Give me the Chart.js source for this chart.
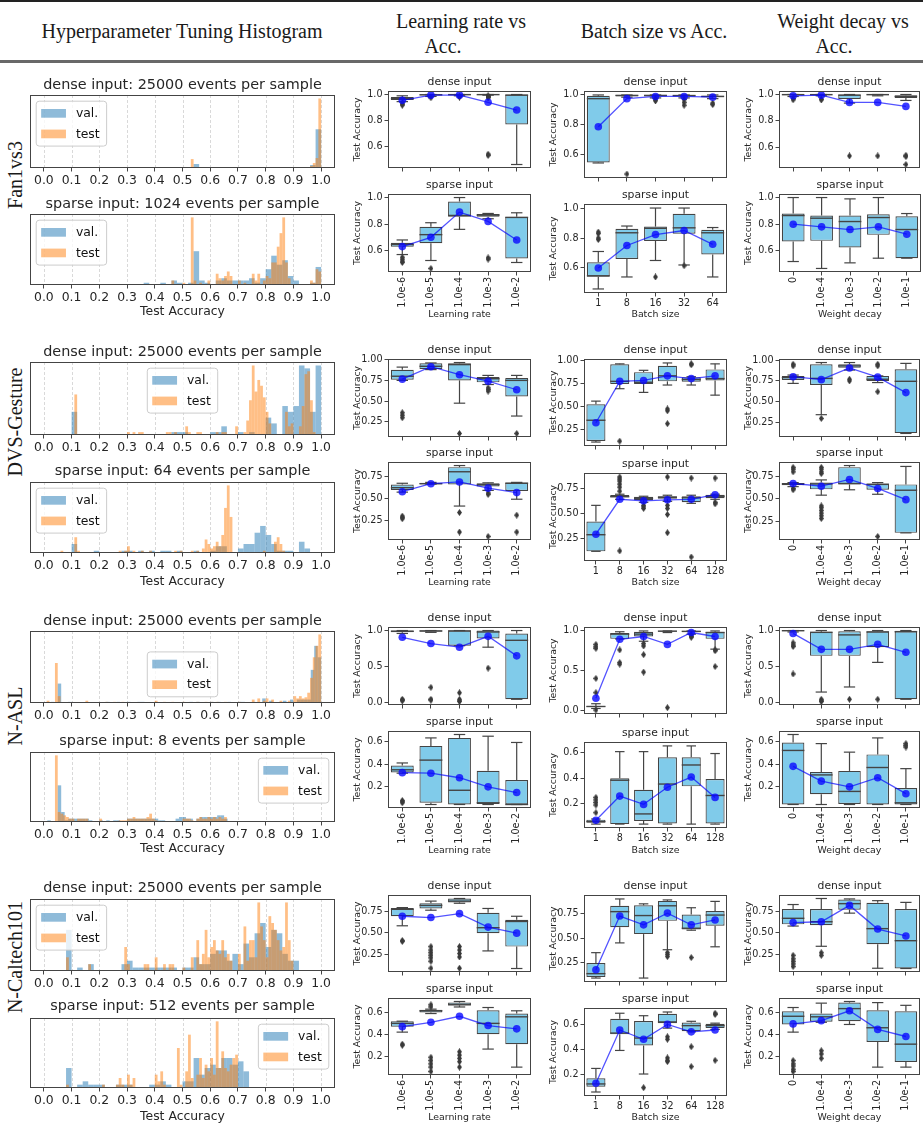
<!DOCTYPE html>
<html>
<head>
<meta charset="utf-8">
<script src="https://cdn.jsdelivr.net/npm/chart.js@4.4.1/dist/chart.umd.min.js"></script>
<style>
  body { margin: 0; background: #fff; }
  #page { position: relative; width: 923px; height: 1143px; overflow: hidden; background: #fff; }
  .rule { position: absolute; left: 0; width: 923px; }
  .hdr, .rowname { position: absolute; font-family: "Liberation Serif", "DejaVu Serif", serif; font-size: 20px; color: #1a1a1a; white-space: nowrap; }
  .hdr { transform: translate(-50%, -50%); }
  .rowname { transform: translate(-50%, -50%) rotate(-90deg); }
  canvas { position: absolute; }
</style>
</head>
<body>
<div id="page">
  <div class="rule" style="top:0;height:1.5px;background:#222;"></div>
  <div class="rule" style="top:60px;height:3px;background:#686868;"></div>
  <div class="hdr" style="left:182px;top:31px;">Hyperparameter Tuning Histogram</div>
  <div class="hdr" style="left:461px;top:21px;">Learning rate vs</div>
  <div class="hdr" style="left:443px;top:46px;">Acc.</div>
  <div class="hdr" style="left:654px;top:31px;">Batch size vs Acc.</div>
  <div class="hdr" style="left:843px;top:21px;">Weight decay vs</div>
  <div class="hdr" style="left:834px;top:46px;">Acc.</div>
</div>
<script>
// ---------- categories ----------
const lrLabels = ['1.0e-6', '1.0e-5', '1.0e-4', '1.0e-3', '1.0e-2'];
const bsLabelsFan = ['1', '8', '16', '32', '64'];
const bsLabels = ['1', '8', '16', '32', '64', '128'];
const wdLabels = ['0', '1.0e-4', '1.0e-3', '1.0e-2', '1.0e-1'];
const rowNames = ['Fan1vs3', 'DVS-Gesture', 'N-ASL', 'N-Caltech101'];
const denseEvents = 25000;
const sparseEvents = [1024, 64, 8, 512];

// ---------- histogram bins: [left edge, count] ----------
const valBinW = 0.02;
const testBinW = 0.01;
const aslValBinW = 0.0125;
const aslTestBinW = 0.01;

const fanDenseVal = [[0.54,4],[0.64,1],[0.70,1],[0.92,1],[0.94,1],[0.96,3],[0.98,39]];
const fanDenseTest = [[0.46,1],[0.53,9],[0.93,1],[0.94,1],[0.95,1],[0.96,2],[0.97,5],[0.98,10],[0.99,70]];
const fanSparseVal = [[0.36,1],[0.42,1],[0.46,2],[0.48,1],[0.52,1],[0.54,15],[0.56,2],[0.58,1],[0.62,2],[0.64,3],[0.66,2],[0.68,2],[0.70,2],[0.72,2],[0.74,3],[0.76,1],[0.78,3],[0.80,7],[0.82,13],[0.84,9],[0.86,11],[0.88,4],[0.90,2],[0.96,1],[0.98,8]];
const fanSparseTest = [[0.46,2],[0.50,1],[0.53,30],[0.54,2],[0.56,1],[0.59,2],[0.62,5],[0.63,3],[0.64,2],[0.65,4],[0.66,6],[0.67,4],[0.70,2],[0.72,1],[0.75,5],[0.76,2],[0.77,5],[0.79,2],[0.80,4],[0.81,3],[0.82,10],[0.83,10],[0.84,17],[0.85,23],[0.86,30],[0.87,10],[0.88,3],[0.96,2],[0.97,1],[0.98,7],[0.99,6]];

const dvsDenseVal = [[0.10,8],[0.46,1],[0.48,1],[0.50,1],[0.60,1],[0.62,1],[0.64,3],[0.70,1],[0.74,1],[0.80,6],[0.82,4],[0.86,10],[0.88,8],[0.90,10],[0.92,24],[0.94,23],[0.96,8],[0.98,24]];
const dvsDenseTest = [[0.11,14],[0.30,1],[0.32,1],[0.34,1],[0.35,1],[0.44,1],[0.45,1],[0.47,1],[0.51,3],[0.52,1],[0.55,1],[0.56,1],[0.62,1],[0.64,1],[0.65,1],[0.69,3],[0.72,1],[0.73,5],[0.74,12],[0.75,24],[0.76,15],[0.77,19],[0.78,17],[0.79,13],[0.80,8],[0.81,4],[0.87,8],[0.88,3],[0.89,4],[0.92,3],[0.93,10],[0.94,21],[0.95,22],[0.96,12],[0.97,1]];
const dvsSparseVal = [[0.10,4],[0.18,1],[0.28,1],[0.30,1],[0.34,1],[0.38,1],[0.42,1],[0.44,1],[0.48,1],[0.54,1],[0.60,1],[0.62,3],[0.64,3],[0.70,2],[0.72,4],[0.74,4],[0.76,9],[0.78,12],[0.80,8],[0.82,4],[0.84,1],[0.86,1],[0.88,1],[0.92,5],[0.94,2]];
const dvsSparseTest = [[0.06,1],[0.11,7],[0.12,1],[0.27,1],[0.29,1],[0.30,3],[0.32,1],[0.35,1],[0.38,1],[0.47,1],[0.49,1],[0.53,1],[0.55,1],[0.57,2],[0.58,6],[0.59,4],[0.60,2],[0.61,3],[0.62,5],[0.63,3],[0.64,8],[0.65,20],[0.66,30],[0.67,16],[0.79,1],[0.83,5],[0.84,7],[0.85,4],[0.86,1]];

const aslDenseVal = [[0.025,1],[0.05,17],[0.0875,1],[0.225,1],[0.2625,1],[0.3,1],[0.3375,1],[0.35,1],[0.525,1],[0.55,1],[0.6,1],[0.625,1],[0.6625,1],[0.7,1],[0.7125,1],[0.75,1],[0.7875,4],[0.8125,2],[0.85,1],[0.8625,2],[0.8875,3],[0.9125,3],[0.925,3],[0.9375,3],[0.95,3],[0.9625,29],[0.975,50],[0.9875,40]];
const aslDenseTest = [[0.01,2],[0.04,35],[0.05,6],[0.15,2],[0.22,1],[0.25,1],[0.28,1],[0.40,2],[0.43,1],[0.46,1],[0.50,1],[0.55,1],[0.58,1],[0.60,1],[0.62,1],[0.65,1],[0.70,1],[0.75,3],[0.77,4],[0.79,2],[0.80,4],[0.82,3],[0.85,2],[0.88,2],[0.90,6],[0.91,4],[0.92,6],[0.93,4],[0.94,5],[0.95,9],[0.96,22],[0.97,40],[0.98,50],[0.99,60]];
const aslSparseVal = [[0.0125,1],[0.05,22],[0.0625,6],[0.075,1],[0.0875,2],[0.1,2],[0.1125,2],[0.125,2],[0.1375,2],[0.15,2],[0.1625,1],[0.2,1],[0.225,1],[0.25,1],[0.2625,1],[0.3,2],[0.3125,2],[0.325,2],[0.3375,2],[0.35,2],[0.3625,2],[0.375,2],[0.3875,2],[0.4,2],[0.4125,1],[0.425,1],[0.475,2],[0.4875,3],[0.5,3],[0.5125,2],[0.525,2],[0.55,2],[0.5625,3],[0.575,3],[0.5875,3],[0.6,3],[0.6125,3],[0.625,4],[0.6375,4],[0.65,2]];
const aslSparseTest = [[0.04,40],[0.05,6],[0.06,5],[0.07,4],[0.08,3],[0.09,2],[0.10,2],[0.12,2],[0.13,2],[0.14,2],[0.15,2],[0.20,2],[0.27,1],[0.28,1],[0.29,1],[0.30,2],[0.31,2],[0.32,3],[0.33,2],[0.34,2],[0.35,2],[0.36,2],[0.37,3],[0.38,5],[0.39,2],[0.40,1],[0.50,2],[0.51,2],[0.52,2],[0.53,1],[0.55,2],[0.56,3],[0.57,2],[0.58,2],[0.59,3],[0.60,2],[0.61,3],[0.62,2],[0.63,3],[0.64,2],[0.65,3]];

const calDenseVal = [[0.08,12],[0.12,1],[0.16,2],[0.28,2],[0.30,3],[0.32,1],[0.34,1],[0.36,1],[0.38,1],[0.40,1],[0.42,1],[0.44,1],[0.46,1],[0.50,1],[0.52,1],[0.54,4],[0.56,2],[0.58,2],[0.60,5],[0.62,6],[0.64,6],[0.66,3],[0.68,5],[0.70,2],[0.72,8],[0.74,4],[0.76,11],[0.78,14],[0.80,7],[0.82,12],[0.84,11],[0.86,5],[0.88,3],[0.90,3]];
const calDenseTest = [[0.08,4],[0.16,2],[0.29,7],[0.30,2],[0.36,2],[0.37,2],[0.40,4],[0.43,2],[0.45,2],[0.46,2],[0.50,1],[0.53,4],[0.55,9],[0.56,2],[0.57,5],[0.58,12],[0.59,4],[0.60,7],[0.61,9],[0.62,6],[0.63,5],[0.64,9],[0.65,4],[0.66,5],[0.67,3],[0.70,5],[0.72,13],[0.73,3],[0.74,9],[0.75,9],[0.76,4],[0.77,20],[0.78,13],[0.79,9],[0.80,4],[0.81,16],[0.82,14],[0.83,12],[0.84,9],[0.85,6],[0.86,7],[0.87,20],[0.88,9],[0.89,3]];
const calSparseVal = [[0.08,6],[0.12,1],[0.14,2],[0.16,1],[0.18,1],[0.20,1],[0.26,1],[0.28,1],[0.30,1],[0.38,1],[0.40,1],[0.42,2],[0.44,1],[0.50,2],[0.52,2],[0.54,9],[0.56,4],[0.58,6],[0.60,7],[0.62,6],[0.64,9],[0.66,9],[0.68,7],[0.70,8],[0.72,5]];
const calSparseTest = [[0.08,1],[0.21,1],[0.26,1],[0.27,3],[0.28,1],[0.30,4],[0.31,1],[0.32,3],[0.40,4],[0.41,2],[0.42,5],[0.43,1],[0.48,12],[0.49,1],[0.51,5],[0.52,16],[0.53,3],[0.55,4],[0.56,9],[0.57,3],[0.58,7],[0.59,5],[0.60,9],[0.61,4],[0.62,20],[0.63,6],[0.64,11],[0.65,6],[0.66,5],[0.67,7],[0.68,9],[0.69,10]];

// ---------- box stats: [whisker low, q1, median, q3, whisker high, mean, outliers] ----------
const fanLrDense = [[0.945,0.958,0.968,0.980,0.990,0.955,[0.935,0.925,0.918]],[0.985,0.992,0.998,1.0,1.0,0.995,[0.975]],[0.99,0.995,0.999,1.0,1.0,0.995,[0.985,0.98]],[0.995,0.996,0.999,1.0,1.0,0.94,[0.99,0.985,0.98,0.975,0.54,0.53]],[0.46,0.768,0.995,1.0,1.0,0.88,[]]];
const fanLrSparse = [[0.57,0.628,0.645,0.658,0.68,0.63,[0.55,0.535,0.52,0.51]],[0.525,0.655,0.72,0.78,0.81,0.70,[0.465]],[0.76,0.856,0.865,0.97,1.0,0.89,[]],[0.84,0.855,0.868,0.875,0.88,0.82,[0.545,0.535]],[0.51,0.54,0.85,0.855,0.885,0.68,[]]];
const fanBsDense = [[0.54,0.543,0.975,0.995,1.0,0.785,[]],[0.985,0.99,0.997,1.0,1.0,0.975,[0.465]],[0.98,0.99,0.997,1.0,1.0,0.99,[0.975,0.965,0.96]],[0.98,0.99,0.996,1.0,1.0,0.99,[0.97,0.95,0.93]],[0.975,0.985,0.99,0.995,1.0,0.985,[0.945,0.935]]];
const fanBsSparse = [[0.46,0.542,0.548,0.638,0.71,0.60,[0.84,0.83,0.80,0.79]],[0.54,0.66,0.835,0.862,0.88,0.75,[]],[0.65,0.78,0.865,0.876,1.0,0.823,[0.54]],[0.62,0.829,0.868,0.962,1.0,0.85,[0.615]],[0.54,0.69,0.835,0.855,0.87,0.758,[]]];
const fanWdDense = [[0.985,0.995,0.999,1.0,1.0,0.99,[0.97,0.96]],[0.99,0.995,0.999,1.0,1.0,0.995,[0.965,0.96]],[0.935,0.966,0.995,1.0,1.0,0.94,[0.535]],[0.99,0.995,0.999,1.0,1.0,0.94,[0.535]],[0.955,0.974,0.985,0.995,1.0,0.91,[0.54,0.53,0.47]]];
const fanWdSparse = [[0.52,0.67,0.865,0.88,1.0,0.80,[]],[0.468,0.675,0.845,0.865,1.0,0.78,[]],[0.51,0.625,0.82,0.865,0.99,0.76,[]],[0.545,0.72,0.85,0.875,1.0,0.78,[]],[0.545,0.545,0.76,0.86,0.88,0.725,[]]];

const dvsLrDense = [[0.75,0.757,0.80,0.878,0.91,0.765,[0.36,0.33,0.30]],[0.88,0.886,0.92,0.955,0.96,0.915,[]],[0.475,0.75,0.94,0.955,0.965,0.818,[0.11]],[0.70,0.726,0.77,0.79,0.81,0.74,[0.66,0.64,0.62]],[0.32,0.557,0.75,0.78,0.81,0.637,[0.11]]];
const dvsLrSparse = [[0.57,0.595,0.62,0.655,0.67,0.575,[0.30,0.285,0.27]],[0.66,0.66,0.665,0.675,0.68,0.665,[]],[0.413,0.656,0.80,0.852,0.87,0.685,[0.34,0.12]],[0.59,0.635,0.655,0.67,0.675,0.615,[0.56,0.545,0.07]],[0.49,0.583,0.67,0.678,0.68,0.565,[0.31,0.12]]];
const dvsBsDense = [[0.11,0.122,0.347,0.52,0.555,0.32,[]],[0.69,0.74,0.77,0.955,0.96,0.77,[0.12]],[0.65,0.74,0.76,0.87,0.89,0.78,[]],[0.73,0.77,0.83,0.94,0.97,0.83,[0.47,0.45,0.31]],[0.73,0.765,0.79,0.815,0.82,0.80,[0.96,0.95]],[0.62,0.78,0.80,0.90,0.96,0.83,[]]];
const dvsBsSparse = [[0.126,0.126,0.29,0.42,0.58,0.295,[]],[0.64,0.66,0.665,0.682,0.69,0.64,[0.86,0.84,0.82,0.79,0.76,0.72,0.13]],[0.61,0.63,0.65,0.665,0.67,0.625,[0.58,0.565,0.55]],[0.62,0.645,0.66,0.67,0.68,0.635,[0.86,0.58,0.55,0.49,0.31]],[0.60,0.61,0.655,0.67,0.68,0.64,[0.85,0.07]],[0.64,0.65,0.67,0.685,0.69,0.685,[0.85,0.61,0.595]]];
const dvsWdDense = [[0.72,0.762,0.79,0.81,0.82,0.80,[0.95,0.93]],[0.345,0.70,0.78,0.95,0.97,0.765,[0.30]],[0.88,0.907,0.93,0.95,0.97,0.905,[0.77,0.75]],[0.73,0.75,0.77,0.81,0.81,0.795,[0.95,0.93,0.62]],[0.12,0.124,0.745,0.89,0.96,0.61,[]]];
const dvsWdSparse = [[0.635,0.65,0.665,0.675,0.68,0.67,[0.85,0.83,0.80,0.615,0.60]],[0.54,0.605,0.665,0.68,0.71,0.64,[0.85,0.83,0.80,0.78,0.42,0.40,0.37,0.34,0.31,0.28]],[0.60,0.66,0.67,0.852,0.87,0.715,[]],[0.55,0.60,0.66,0.67,0.68,0.615,[0.08]],[0.12,0.12,0.595,0.66,0.86,0.49,[]]];

const aslLrDense = [[0.96,0.975,0.99,1.0,1.0,0.907,[0.05,0.04,0.03]],[0.975,0.985,0.995,1.0,1.0,0.82,[0.215,0.05,0.04]],[0.79,0.79,0.995,1.0,1.0,0.77,[0.14,0.05,0.03,0.02]],[0.77,0.89,0.98,1.0,1.0,0.92,[0.48]],[0.05,0.05,0.865,0.958,1.0,0.65,[]]];
const aslLrSparse = [[0.32,0.327,0.35,0.388,0.41,0.325,[0.08,0.07,0.06]],[0.045,0.06,0.435,0.56,0.63,0.32,[]],[0.045,0.045,0.17,0.63,0.66,0.28,[]],[0.045,0.05,0.06,0.342,0.645,0.20,[]],[0.045,0.045,0.045,0.26,0.59,0.15,[]]];
const aslBsDense = [[0.02,0.04,0.045,0.05,0.08,0.15,[0.83,0.80,0.78,0.40,0.22,0.0]],[0.90,0.90,0.96,0.975,0.99,0.895,[0.76,0.60,0.58]],[0.87,0.93,0.96,0.99,1.0,0.93,[0.84,0.81,0.70,0.48]],[0.98,0.99,0.998,1.0,1.0,0.83,[0.03]],[0.96,0.985,0.995,1.0,1.0,0.98,[0.95,0.93,0.92]],[0.77,0.90,0.98,0.99,1.0,0.93,[0.76,0.75,0.55]]];
const aslBsSparse = [[0.04,0.05,0.06,0.075,0.08,0.07,[0.25,0.23,0.21,0.19,0.13]],[0.04,0.04,0.385,0.40,0.61,0.26,[]],[0.04,0.065,0.12,0.31,0.61,0.195,[]],[0.04,0.045,0.355,0.565,0.655,0.33,[]],[0.04,0.337,0.505,0.565,0.655,0.41,[]],[0.04,0.045,0.265,0.395,0.595,0.25,[]]];
const aslWdDense = [[0.98,0.99,0.998,1.0,1.0,0.96,[0.83,0.80,0.78,0.40]],[0.15,0.65,0.975,0.985,1.0,0.74,[0.05,0.03,0.02]],[0.22,0.65,0.94,0.99,1.0,0.74,[0.05]],[0.56,0.77,0.98,0.99,1.0,0.81,[0.05]],[0.05,0.05,0.985,0.99,1.0,0.70,[]]];
const aslWdSparse = [[0.045,0.045,0.52,0.59,0.66,0.38,[]],[0.045,0.135,0.305,0.33,0.58,0.25,[]],[0.045,0.05,0.16,0.34,0.505,0.20,[]],[0.045,0.045,0.37,0.485,0.63,0.28,[]],[0.045,0.045,0.06,0.19,0.36,0.14,[0.58,0.565,0.55]]];

const calLrDense = [[0.58,0.69,0.77,0.785,0.79,0.69,[0.41,0.40]],[0.76,0.78,0.815,0.84,0.865,0.675,[0.34,0.30,0.27,0.24,0.21,0.17,0.09]],[0.84,0.85,0.865,0.895,0.895,0.72,[0.34,0.30,0.26,0.22,0.09]],[0.29,0.495,0.558,0.73,0.78,0.565,[]],[0.087,0.34,0.63,0.65,0.69,0.495,[]]];
const calLrSparse = [[0.42,0.47,0.50,0.52,0.52,0.47,[0.31,0.30]],[0.59,0.60,0.615,0.625,0.63,0.51,[0.67,0.65,0.19,0.16,0.13,0.10,0.06]],[0.65,0.665,0.67,0.69,0.70,0.565,[0.24,0.21,0.18,0.15,0.10]],[0.265,0.40,0.50,0.62,0.645,0.48,[]],[0.10,0.31,0.56,0.59,0.615,0.45,[]]];
const calBsDense = [[0.09,0.10,0.135,0.243,0.35,0.175,[]],[0.45,0.61,0.77,0.83,0.90,0.725,[]],[0.09,0.54,0.73,0.835,0.85,0.635,[]],[0.38,0.676,0.83,0.88,0.89,0.755,[0.35,0.33,0.31]],[0.58,0.588,0.60,0.74,0.81,0.635,[0.30]],[0.41,0.625,0.735,0.777,0.875,0.685,[]]];
const calBsSparse = [[0.055,0.097,0.12,0.165,0.245,0.125,[]],[0.39,0.52,0.53,0.645,0.69,0.555,[]],[0.20,0.43,0.49,0.627,0.67,0.48,[0.09]],[0.57,0.61,0.62,0.685,0.70,0.60,[0.50,0.48,0.33,0.31,0.30]],[0.54,0.545,0.59,0.615,0.625,0.54,[0.42,0.26]],[0.56,0.57,0.59,0.605,0.61,0.555,[0.69,0.68,0.31]]];
const calWdDense = [[0.58,0.60,0.67,0.777,0.83,0.62,[0.24,0.20,0.17,0.14,0.11]],[0.345,0.59,0.63,0.777,0.90,0.63,[0.27,0.24]],[0.73,0.77,0.84,0.887,0.895,0.82,[]],[0.09,0.37,0.55,0.85,0.875,0.545,[]],[0.087,0.087,0.41,0.777,0.855,0.465,[]]];
const calWdSparse = [[0.42,0.49,0.565,0.61,0.645,0.495,[0.16,0.13,0.11,0.08,0.06]],[0.51,0.515,0.56,0.59,0.685,0.525,[0.25,0.22,0.18]],[0.49,0.52,0.635,0.69,0.70,0.615,[]],[0.10,0.33,0.46,0.62,0.69,0.445,[]],[0.10,0.148,0.31,0.61,0.665,0.38,[]]];

// y tick spacing per row: [dense, sparse]
const yStepFan = [0.2, 0.2];
const yStepDvs = [0.25, 0.25];
const yStepAsl = [0.5, 0.2];
const yStepCal = [0.25, 0.2];

// ---------- styling ----------
const FONT = "'DejaVu Sans', 'Noto Sans', sans-serif";
const TEXT = '#262626';
const EDGE = '#444444';
const BOX_FILL = '#80cbea';
const VAL_COLOR = 'rgba(31,119,180,0.5)';
const TEST_COLOR = 'rgba(255,127,14,0.5)';
const MEAN_LINE = 'rgba(0,0,255,0.68)';
const MEAN_DOT = 'rgba(10,10,255,0.8)';
const page = document.getElementById('page');

// thin diamond used for outlier markers
const flierMark = (() => {
  const c = document.createElement('canvas');
  c.width = 5; c.height = 7;
  const g = c.getContext('2d');
  g.fillStyle = '#3a3a3a';
  g.beginPath(); g.moveTo(2.5, 0); g.lineTo(5, 3.5); g.lineTo(2.5, 7); g.lineTo(0, 3.5); g.closePath(); g.fill();
  return c;
})();

// titles, axis labels, frames, dashed grid, whiskers and legends
const decor = {
  id: 'decor',
  beforeDatasetsDraw(chart, args, o) {
    if (!o.vgrid) return;
    const { ctx, chartArea: a } = chart;
    const xs = chart.scales.x;
    ctx.save();
    ctx.strokeStyle = '#cfcfcf'; ctx.lineWidth = 0.8; ctx.setLineDash([3, 2]);
    xs.ticks.forEach(t => {
      const px = Math.round(xs.getPixelForValue(t.value)) + 0.5;
      ctx.beginPath(); ctx.moveTo(px, a.top); ctx.lineTo(px, a.bottom); ctx.stroke();
    });
    ctx.restore();
  },
  afterDatasetDraw(chart, args) {
    const ds = chart.data.datasets[args.index];
    if (!ds.stats) return;
    const { ctx } = chart;
    const ys = chart.scales.y;
    const p = v => ys.getPixelForValue(v);
    const seg = (x1, y1, x2, y2) => { ctx.beginPath(); ctx.moveTo(x1, y1); ctx.lineTo(x2, y2); ctx.stroke(); };
    ctx.save();
    ctx.strokeStyle = EDGE;
    ds.stats.forEach((s, i) => {
      const el = args.meta.data[i];
      const x = el.x, hw = el.width / 2, cw = el.width / 4;
      ctx.lineWidth = 1.2;
      seg(x, p(s[1]), x, p(s[0]));
      seg(x, p(s[3]), x, p(s[4]));
      seg(x - cw, p(s[0]), x + cw, p(s[0]));
      seg(x - cw, p(s[4]), x + cw, p(s[4]));
      ctx.lineWidth = 1.4;
      seg(x - hw, p(s[2]), x + hw, p(s[2]));
    });
    ctx.restore();
  },
  afterDraw(chart, args, o) {
    const { ctx, chartArea: a } = chart;
    ctx.save();
    ctx.strokeStyle = EDGE; ctx.lineWidth = 1;
    ctx.strokeRect(Math.round(a.left) + 0.5, Math.round(a.top) + 0.5, Math.round(a.right - a.left) - 1, Math.round(a.bottom - a.top) - 1);
    ctx.fillStyle = TEXT; ctx.textAlign = 'center'; ctx.textBaseline = 'middle';
    const cx = (a.left + a.right) / 2;
    if (o.title) { ctx.font = o.titleSize + 'px ' + FONT; ctx.fillText(o.title, cx, o.titleY); }
    if (o.xLabel) { ctx.font = o.labelSize + 'px ' + FONT; ctx.fillText(o.xLabel, cx, o.xLabelY); }
    if (o.yLabel) {
      ctx.font = o.labelSize + 'px ' + FONT;
      ctx.translate(o.yLabelX, (a.top + a.bottom) / 2); ctx.rotate(-Math.PI / 2);
      ctx.fillText(o.yLabel, 0, 0);
      ctx.setTransform(1, 0, 0, 1, 0, 0);
    }
    if (o.legend) {
      const fs = 12.4;
      ctx.font = fs + 'px ' + FONT;
      const items = chart.data.datasets.map(d => ({ label: d.label, color: d.backgroundColor }));
      const tw = Math.max(...items.map(it => ctx.measureText(it.label).width));
      const rowH = fs * 1.16, bp = 0.4 * fs, hl = 2 * fs, hh = 0.7 * fs, hp = 0.8 * fs, ls = 0.5 * fs, ba = 0.5 * fs;
      const w = bp * 2 + hl + hp + tw + 2, h = bp * 2 + items.length * rowH + (items.length - 1) * ls;
      let x = a.left + ba, y = a.top + ba;
      if (o.legend.includes('right')) x = a.right - ba - w;
      if (o.legend.includes('center')) x = cx - w / 2;
      if (o.legend.includes('lower')) y = a.bottom - ba - h;
      const r = 3;
      ctx.beginPath();
      ctx.moveTo(x + r, y); ctx.lineTo(x + w - r, y); ctx.quadraticCurveTo(x + w, y, x + w, y + r);
      ctx.lineTo(x + w, y + h - r); ctx.quadraticCurveTo(x + w, y + h, x + w - r, y + h);
      ctx.lineTo(x + r, y + h); ctx.quadraticCurveTo(x, y + h, x, y + h - r);
      ctx.lineTo(x, y + r); ctx.quadraticCurveTo(x, y, x + r, y); ctx.closePath();
      ctx.fillStyle = 'rgba(255,255,255,0.8)'; ctx.fill();
      ctx.strokeStyle = '#cccccc'; ctx.lineWidth = 1; ctx.stroke();
      ctx.textAlign = 'left';
      items.forEach((it, k) => {
        const cy = y + bp + k * (rowH + ls) + rowH / 2;
        ctx.fillStyle = it.color; ctx.fillRect(x + bp, cy - hh / 2, hl, hh);
        ctx.fillStyle = '#111'; ctx.fillText(it.label, x + bp + hl + hp, cy + 0.5);
      });
    }
    ctx.restore();
  }
};
Chart.register(decor);

function place(rect, pad) {
  const cv = document.createElement('canvas');
  const W = rect.w + pad.l + pad.r, H = rect.h + pad.t + pad.b;
  cv.width = W; cv.height = H;
  cv.style.left = (rect.l - pad.l) + 'px';
  cv.style.top = (rect.t - pad.t) + 'px';
  cv.style.width = W + 'px'; cv.style.height = H + 'px';
  page.appendChild(cv);
  return { cv, ox: rect.l - pad.l, oy: rect.t - pad.t };
}

function binsToPoints(pairs, w) {
  const first = pairs[0][0], last = pairs[pairs.length - 1][0];
  const n = Math.round((last - first) / w) + 1;
  const counts = new Array(n).fill(0);
  pairs.forEach(([e, c]) => { counts[Math.round((e - first) / w)] += c; });
  return counts.map((c, i) => ({ x: first + (i + 0.5) * w, y: c }));
}

function histPanel(rect, val, valW, test, testW, o) {
  const pad = { l: rect.l, t: 24, r: 10, b: o.xLabel ? (o.xLabelY - rect.t - rect.h + 10) : 20 };
  const { cv, oy } = place(rect, pad);
  const valPts = binsToPoints(val, valW), testPts = binsToPoints(test, testW);
  const top = Math.max(...valPts.map(p => p.y), ...testPts.map(p => p.y)) * 1.05;
  // non-grouped bars sit exactly on their bin centres; width is capped to the bin width below
  const barOpts = { type: 'bar', grouped: false, barPercentage: 100, categoryPercentage: 1, borderWidth: 0, inflateAmount: 0 };
  const chart = new Chart(cv, {
    type: 'bar',
    data: { datasets: [
      { ...barOpts, label: 'val.', data: valPts, backgroundColor: VAL_COLOR, order: 2 },
      { ...barOpts, label: 'test', data: testPts, backgroundColor: TEST_COLOR, order: 1 }
    ] },
    options: {
      responsive: false, animation: false, devicePixelRatio: 1, events: [],
      layout: { padding: { left: 0, top: pad.t, right: pad.r, bottom: 0 } },
      plugins: {
        legend: { display: false }, tooltip: { enabled: false },
        decor: { vgrid: true, title: o.title, titleY: o.titleY - oy, titleSize: 14.4, labelSize: 12.4,
                 xLabel: o.xLabel, xLabelY: o.xLabelY - oy, legend: o.legend }
      },
      scales: {
        x: { type: 'linear', min: -0.05, max: 1.05, offset: false,
             grid: { display: true, offset: false, drawOnChartArea: false, drawTicks: true, tickLength: 3.5, tickColor: EDGE },
             border: { display: false },
             ticks: { font: { family: FONT, size: 12.4 }, color: TEXT, padding: 1.5, maxRotation: 0, autoSkip: false, callback: v => v.toFixed(1) },
             afterBuildTicks: s => { s.ticks = Array.from({ length: 11 }, (_, i) => ({ value: i / 10 })); },
             afterFit: s => { s.height = pad.b; } },
        y: { min: 0, max: top, beginAtZero: true,
             grid: { display: false }, border: { display: false }, ticks: { display: false },
             afterFit: s => { s.width = pad.l; } }
      }
    }
  });
  const xs = chart.scales.x;
  const binPx = w => xs.getPixelForValue(w) - xs.getPixelForValue(0);
  chart.data.datasets[0].maxBarThickness = binPx(valW);
  chart.data.datasets[1].maxBarThickness = binPx(testW);
  chart.update('none');
}

function boxPanel(rect, labels, stats, step, o) {
  const pad = { l: 52, t: 20, r: 4, b: o.xLabel ? (o.xLabelY - rect.t - rect.h + 9) : 8 };
  const { cv, ox, oy } = place(rect, pad);
  let lo = Infinity, hi = -Infinity;
  stats.forEach(s => [s[0], s[4], s[5], ...s[6]].forEach(v => { lo = Math.min(lo, v); hi = Math.max(hi, v); }));
  const m = (hi - lo) * 0.05;
  const fliers = [];
  stats.forEach((s, i) => s[6].forEach(v => fliers.push({ x: labels[i], y: v })));
  const dec = step === 0.25 ? 2 : 1;
  new Chart(cv, {
    type: 'bar',
    data: { labels, datasets: [
      { type: 'bar', data: stats.map(s => [s[1], s[3]]), stats, backgroundColor: BOX_FILL, borderColor: EDGE,
        borderWidth: 1.2, borderSkipped: false, barPercentage: 0.8, categoryPercentage: 1, inflateAmount: 0, order: 3 },
      { type: 'line', data: fliers, showLine: false, pointStyle: flierMark, pointRadius: 3, order: 2 },
      { type: 'line', data: stats.map(s => s[5]), borderColor: MEAN_LINE, borderWidth: 1.3, tension: 0,
        pointBackgroundColor: MEAN_DOT, pointBorderWidth: 0, pointRadius: 3.8, order: 1 }
    ] },
    options: {
      responsive: false, animation: false, devicePixelRatio: 1, events: [],
      layout: { padding: { left: 0, top: pad.t, right: pad.r, bottom: 0 } },
      plugins: {
        legend: { display: false }, tooltip: { enabled: false },
        decor: { title: o.title, titleY: rect.t - 9 - oy, titleSize: 10.8, labelSize: 9.4,
                 xLabel: o.xLabel, xLabelY: o.xLabelY - oy, yLabel: 'Test Accuracy', yLabelX: o.yLabelX - ox }
      },
      scales: {
        x: { type: 'category', offset: true,
             grid: { display: true, offset: false, drawOnChartArea: false, drawTicks: true, tickLength: 3.5, tickColor: EDGE },
             border: { display: false },
             ticks: { display: !!o.xLabel, font: { family: FONT, size: 9.6 }, color: TEXT, padding: 1.5, autoSkip: false,
                      minRotation: o.rot, maxRotation: o.rot },
             afterFit: s => { s.height = pad.b; } },
        y: { type: 'linear', min: lo - m, max: hi + m, beginAtZero: false,
             grid: { display: true, drawOnChartArea: false, drawTicks: true, tickLength: 3.5, tickColor: EDGE },
             border: { display: false },
             ticks: { font: { family: FONT, size: 9.6 }, color: TEXT, padding: 2, callback: v => v.toFixed(dec) },
             afterBuildTicks: s => {
               const t = [];
               for (let k = Math.ceil(s.min / step - 1e-9); k * step <= s.max + 1e-9; k++) t.push({ value: +(k * step).toFixed(4) });
               s.ticks = t;
             },
             afterFit: s => { s.width = pad.l; } }
      }
    }
  });
}

// ---------- assemble the grid ----------
const rows = [
  { hist: [[fanDenseVal, fanDenseTest], [fanSparseVal, fanSparseTest]], bins: [valBinW, testBinW],
    lr: [fanLrDense, fanLrSparse], bs: [fanBsDense, fanBsSparse], wd: [fanWdDense, fanWdSparse], bsLabels: bsLabelsFan, step: yStepFan },
  { hist: [[dvsDenseVal, dvsDenseTest], [dvsSparseVal, dvsSparseTest]], bins: [valBinW, testBinW],
    lr: [dvsLrDense, dvsLrSparse], bs: [dvsBsDense, dvsBsSparse], wd: [dvsWdDense, dvsWdSparse], bsLabels: bsLabels, step: yStepDvs },
  { hist: [[aslDenseVal, aslDenseTest], [aslSparseVal, aslSparseTest]], bins: [aslValBinW, aslTestBinW],
    lr: [aslLrDense, aslLrSparse], bs: [aslBsDense, aslBsSparse], wd: [aslWdDense, aslWdSparse], bsLabels: bsLabels, step: yStepAsl },
  { hist: [[calDenseVal, calDenseTest], [calSparseVal, calSparseTest]], bins: [valBinW, testBinW],
    lr: [calLrDense, calLrSparse], bs: [calBsDense, calBsSparse], wd: [calWdDense, calWdSparse], bsLabels: bsLabels, step: yStepCal }
];

const layout = [
  { name: 175, hist: [{ t: 95, h: 73, ty: 85 }, { t: 214, h: 71, ty: 204 }], histXL: 312,
    lr: [{ t: 91, h: 77 }, { t: 194, h: 78 }], bs: [{ t: 91, h: 87 }, { t: 204, h: 89 }], boxXL: 315, legend: ['upper left', 'upper left'] },
  { name: 422, hist: [{ t: 362, h: 73, ty: 352 }, { t: 482, h: 71, ty: 471 }], histXL: 582,
    lr: [{ t: 359, h: 78 }, { t: 462, h: 78 }], bs: [{ t: 359, h: 87 }, { t: 473, h: 88 }], boxXL: 583, legend: ['upper center', 'upper left'] },
  { name: 716, hist: [{ t: 631, h: 72, ty: 621 }, { t: 752, h: 70, ty: 741 }], histXL: 849,
    lr: [{ t: 627, h: 78 }, { t: 731, h: 77 }], bs: [{ t: 627, h: 87 }, { t: 742, h: 86 }], boxXL: 851, legend: ['lower center', 'upper right'] },
  { name: 957, hist: [{ t: 899, h: 72, ty: 888 }, { t: 1018, h: 70, ty: 1006 }], histXL: 1117,
    lr: [{ t: 895, h: 77 }, { t: 998, h: 77 }], bs: [{ t: 895, h: 87 }, { t: 1008, h: 88 }], boxXL: 1118, legend: ['upper left', 'upper right'] }
];

const cols = {
  lr: { l: 388, w: 144, yl: 358, label: 'Learning rate', rot: 90 },
  bs: { l: 584, w: 144, yl: 554, label: 'Batch size', rot: 0 },
  wd: { l: 779, w: 142, yl: 749, label: 'Weight decay', rot: 90 }
};

rows.forEach((r, ri) => {
  const L = layout[ri];
  const nm = document.createElement('div');
  nm.className = 'rowname'; nm.textContent = rowNames[ri];
  nm.style.left = '15px'; nm.style.top = L.name + 'px';
  page.appendChild(nm);
  [0, 1].forEach(k => {
    const hl = L.hist[k];
    histPanel({ l: 30, t: hl.t, w: 305, h: hl.h }, r.hist[k][0], r.bins[0], r.hist[k][1], r.bins[1], {
      title: k ? `sparse input: ${sparseEvents[ri]} events per sample` : `dense input: ${denseEvents} events per sample`,
      titleY: hl.ty, xLabel: k ? 'Test Accuracy' : null, xLabelY: L.histXL, legend: L.legend[k]
    });
    ['lr', 'bs', 'wd'].forEach(c => {
      const g = c === 'bs' ? L.bs[k] : L.lr[k];
      const col = cols[c];
      const labels = c === 'lr' ? lrLabels : c === 'wd' ? wdLabels : r.bsLabels;
      boxPanel({ l: col.l, t: g.t, w: col.w, h: g.h }, labels, r[c][k], r.step[k], {
        title: k ? 'sparse input' : 'dense input',
        xLabel: k ? col.label : null, xLabelY: L.boxXL, yLabelX: col.yl, rot: col.rot
      });
    });
  });
});
</script>
</body>
</html>
